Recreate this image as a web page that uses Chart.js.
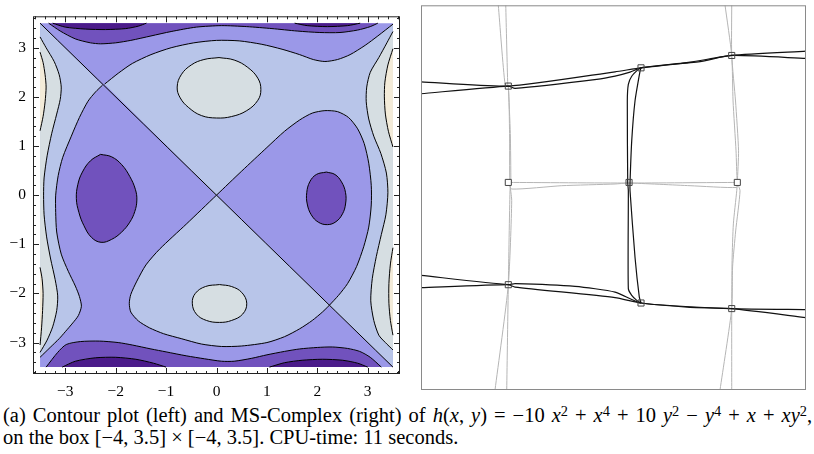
<!DOCTYPE html>
<html>
<head>
<meta charset="utf-8">
<script src="https://cdn.jsdelivr.net/npm/chart.js@4.4.0/dist/chart.umd.min.js"></script>
<style>
  body { margin: 0; background: #fff; width: 814px; height: 454px; position: relative; overflow: hidden; }
  #leftBox { position: absolute; left: 0; top: 0; width: 410px; height: 400px; }
  #rightBox { position: absolute; left: 410px; top: 0; width: 404px; height: 400px; }
  #caption { position: absolute; left: 3px; top: 404px; font-family: 'Liberation Serif', serif; font-size: 20.5px;
             line-height: 22px; color: #000; }
  #caption .l1 { width: 809px; text-align: justify; text-align-last: justify; }
  #caption sup { font-size: 0.7em; line-height: 0; vertical-align: 0.45em; }
</style>
</head>
<body>
<div id="leftBox"><canvas id="contour"></canvas></div>
<div id="rightBox"><canvas id="complex"></canvas></div>
<div id="caption">
  <div class="l1">(a) Contour plot (left) and MS-Complex (right) of <i>h</i>(<i>x</i>, <i>y</i>) = −10 <i>x</i><sup>2</sup> + <i>x</i><sup>4</sup> + 10 <i>y</i><sup>2</sup> − <i>y</i><sup>4</sup> + <i>x</i> + <i>xy</i><sup>2</sup>,</div>
  <div class="l2">on the box [−4, 3.5] × [−4, 3.5]. CPU-time: 11 seconds.</div>
</div>

<script>
// ---- contour plot (left), contours, [x, y] ----
const axisTicks = [-3, -2, -1, 0, 1, 2, 3];
const domainBox = [[-3.5, -3.5], [3.5, -3.5], [3.5, 3.5], [-3.5, 3.5]];

// level 0
const diagonal = [[-3.5, 3.5], [3.5, -3.5]];
const c0Left = [[-2.26, 2.24], [-2.4, 2.1], [-2.55, 1.91], [-2.72, 1.58], [-2.88, 1.2], [-3.05, 0.77], [-3.14, 0.4],
  [-3.19, 0], [-3.19, -0.35], [-3.17, -0.75], [-3.08, -1.2], [-2.94, -1.55], [-2.8, -1.85], [-2.72, -2.06],
  [-2.68, -2.26], [-2.74, -2.45], [-2.85, -2.6], [-3.0, -2.78], [-3.12, -2.92], [-3.3, -3.1], [-3.5, -3.3]];
const c0Top = [[-2.22, 2.26], [-1.95, 2.48], [-1.67, 2.68], [-1.3, 2.86], [-0.9, 3.0], [-0.45, 3.1], [0, 3.15],
  [0.45, 3.14], [0.9, 3.07], [1.3, 2.97], [1.65, 2.86], [1.92, 2.76], [2.15, 2.72], [2.4, 2.76], [2.65, 2.86],
  [2.95, 3.05], [3.2, 3.24], [3.5, 3.48]];
const c0Right = [[0, 0], [0.5, 0.49], [1.0, 0.97], [1.35, 1.3], [1.65, 1.53], [1.9, 1.67], [2.15, 1.72], [2.4, 1.7],
  [2.62, 1.58], [2.8, 1.35], [2.93, 1.05], [3.02, 0.65], [3.07, 0.2], [3.07, -0.2], [3.02, -0.65], [2.92, -1.05],
  [2.78, -1.45], [2.6, -1.8], [2.42, -2.04], [2.24, -2.24]];
const c0Bottom = [[0, 0], [-0.6, -0.59], [-1.13, -1.1], [-1.4, -1.42], [-1.58, -1.75], [-1.7, -2.02], [-1.73, -2.2],
  [-1.7, -2.38], [-1.55, -2.56], [-1.33, -2.7], [-1.05, -2.82], [-0.7, -2.92], [-0.3, -3.03], [0.1, -3.08],
  [0.5, -3.07], [1.0, -3.0], [1.35, -2.88], [1.65, -2.72], [1.9, -2.55], [2.1, -2.38], [2.24, -2.24]];

// level -20
const eyeLeft = [[-2.3, 0.83], [-2.08, 0.78], [-1.88, 0.62], [-1.72, 0.38], [-1.61, 0.12], [-1.58, -0.1],
  [-1.62, -0.33], [-1.72, -0.55], [-1.88, -0.75], [-2.08, -0.9], [-2.29, -0.96], [-2.48, -0.86], [-2.63, -0.62],
  [-2.73, -0.35], [-2.78, -0.07], [-2.75, 0.22], [-2.66, 0.47], [-2.5, 0.7], [-2.3, 0.83]];
const eyeRight = [[2.18, 0.47], [2.35, 0.42], [2.48, 0.27], [2.56, 0.05], [2.56, -0.18], [2.5, -0.38], [2.37, -0.54],
  [2.2, -0.6], [2.02, -0.55], [1.88, -0.4], [1.8, -0.18], [1.79, 0.05], [1.85, 0.27], [1.98, 0.42], [2.18, 0.47]];
const c20Top = [[-3.33, 3.5], [-3.1, 3.34], [-2.8, 3.18], [-2.5, 3.1], [-2.3, 3.08], [-2.0, 3.1], [-1.7, 3.15],
  [-1.3, 3.24], [-0.9, 3.33], [-0.4, 3.42], [0.1, 3.45], [0.6, 3.43], [1.1, 3.39], [1.6, 3.34], [2.05, 3.31],
  [2.45, 3.31], [2.8, 3.36], [3.05, 3.43], [3.2, 3.5]];
const c20Bottom = [[-3.38, -3.5], [-3.15, -3.2], [-2.98, -3.04], [-2.7, -2.98], [-2.32, -2.97], [-1.95, -3.0],
  [-1.67, -3.05], [-1.3, -3.13], [-1.0, -3.19], [-0.6, -3.27], [-0.24, -3.33], [0.1, -3.38], [0.35, -3.38],
  [0.7, -3.32], [1.0, -3.25], [1.35, -3.18], [1.65, -3.13], [2.0, -3.1], [2.3, -3.09], [2.6, -3.12], [2.84, -3.18],
  [3.05, -3.3], [3.27, -3.5]];

// level -40
const c40TopL = [[-3.25, 3.5], [-3.0, 3.42], [-2.6, 3.38], [-2.2, 3.37], [-1.8, 3.39], [-1.55, 3.44], [-1.39, 3.5]];
const c40TopR = [[1.55, 3.5], [1.8, 3.45], [2.2, 3.43], [2.6, 3.45], [2.85, 3.5]];
const c40BotL = [[-3.06, -3.5], [-2.8, -3.38], [-2.4, -3.31], [-2.0, -3.3], [-1.6, -3.34], [-1.25, -3.42], [-1.0, -3.5]];
const c40BotR = [[1.05, -3.5], [1.35, -3.41], [1.7, -3.36], [2.1, -3.34], [2.5, -3.36], [2.8, -3.42], [3.0, -3.5]];

// level 20
const c20Left = [[-3.5, 3.22], [-3.38, 3.0], [-3.22, 2.72], [-3.12, 2.45], [-3.08, 2.2], [-3.1, 1.95], [-3.17, 1.65],
  [-3.27, 1.25], [-3.36, 0.8], [-3.42, 0.35], [-3.43, 0], [-3.42, -0.4], [-3.37, -0.85], [-3.29, -1.3],
  [-3.2, -1.72], [-3.15, -2.05], [-3.17, -2.35], [-3.25, -2.68], [-3.36, -2.95], [-3.5, -3.2]];
const c20Right = [[3.5, 3.33], [3.38, 3.1], [3.22, 2.8], [3.05, 2.5], [2.98, 2.2], [2.97, 1.9], [3.02, 1.55],
  [3.12, 1.2], [3.26, 0.85], [3.37, 0.45], [3.4, 0.05], [3.36, -0.4], [3.27, -0.8], [3.17, -1.25], [3.09, -1.7],
  [3.06, -2.15], [3.12, -2.55], [3.22, -2.85], [3.35, -3.0], [3.5, -3.15]];
const blobTop = [[0.05, 2.8], [0.35, 2.75], [0.62, 2.6], [0.82, 2.38], [0.88, 2.15], [0.82, 1.93], [0.6, 1.72],
  [0.3, 1.6], [0.0, 1.57], [-0.3, 1.62], [-0.55, 1.78], [-0.72, 1.98], [-0.78, 2.2], [-0.7, 2.45], [-0.5, 2.65],
  [-0.25, 2.76], [0.05, 2.8]];
const blobBottom = [[0.06, -1.82], [0.3, -1.86], [0.5, -1.98], [0.6, -2.2], [0.52, -2.42], [0.3, -2.55],
  [0.06, -2.59], [-0.2, -2.55], [-0.4, -2.42], [-0.48, -2.2], [-0.42, -2.0], [-0.22, -1.86], [0.06, -1.82]];

// level 40
const c40LeftU = [[-3.5, 2.91], [-3.44, 2.7], [-3.4, 2.45], [-3.38, 2.2], [-3.4, 1.9], [-3.44, 1.6], [-3.5, 1.31]];
const c40LeftD = [[-3.5, -1.47], [-3.46, -1.7], [-3.44, -2.0], [-3.45, -2.35], [-3.47, -2.7], [-3.5, -3.05]];
const c40RightU = [[3.5, 2.98], [3.4, 2.65], [3.34, 2.3], [3.33, 2.0], [3.35, 1.65], [3.41, 1.3], [3.5, 0.98]];
const c40RightD = [[3.5, -1.07], [3.45, -1.4], [3.42, -1.8], [3.42, -2.2], [3.45, -2.55], [3.5, -2.85]];

// ---- MS complex (right), box [-4, 3.5] x [-4, 3.5] ----
const msPoints = [[-2.299, 1.925], [0.286, 2.281], [2.053, 2.522], [-2.299, 0.047], [0.053, 0.047], [2.162, 0.047],
  [-2.299, -1.947], [0.286, -2.304], [2.053, -2.413]];
const msKinds = ['saddle', 'max', 'saddle', 'min', 'saddle', 'min', 'saddle', 'max', 'saddle'];

const blackArcs = [
  [[-4, 2.009], [-2.299, 1.925], [-0.22, 2.203], [0.286, 2.281], [1.241, 2.392], [2.053, 2.522], [3.5, 2.605]],
  [[-4, 1.776], [-2.299, 1.925], [-2.168, 1.881], [-0.577, 2.056], [-0.22, 2.12], [0.072, 2.197], [0.286, 2.281],
    [1.436, 2.401], [2.053, 2.522], [3.5, 2.464]],
  [[-4, -1.766], [-2.299, -1.947], [-2.168, -1.927], [-0.999, -1.98], [-0.22, -2.091], [0.286, -2.304],
    [2.053, -2.413], [3.5, -2.432]],
  [[-4, -2.005], [-2.299, -1.947], [-2.168, -1.993], [-0.22, -2.199], [0.286, -2.304], [1.241, -2.388],
    [2.053, -2.413], [3.5, -2.588]],
  [[0.286, 2.281], [0.234, 2.25], [0.105, 2.117], [0.039, 1.958], [0.019, 1.634], [0.027, 0.047], [0.039, -0.115],
    [0.039, -2.024], [0.105, -2.155], [0.203, -2.252], [0.286, -2.304]],
  [[0.286, 2.281], [0.267, 2.217], [0.169, 1.634], [0.105, 0.857], [0.072, 0.047], [0.072, -0.115], [0.169, -1.411],
    [0.253, -2.188], [0.286, -2.304]]
];
const grayArcs = [
  [[-2.494, 3.5], [-2.363, 1.958], [-2.299, 1.925], [-2.275, 1.0], [-2.27, 0.047], [-2.233, -0.309],
    [-2.299, -1.947], [-2.558, -4]],
  [[-2.349, 3.5], [-2.31, 1.95], [-2.299, 1.925], [-2.26, 1.0], [-2.25, 0.047], [-2.266, -0.115],
    [-2.299, -1.947], [-2.33, -4]],
  [[1.923, 3.5], [2.053, 2.522], [2.079, 1.634], [2.137, 0.663], [2.162, 0.047], [2.215, -0.115], [2.13, -0.9],
    [2.07, -1.6], [2.053, -2.413], [1.825, -4]],
  [[2.053, 3.5], [2.053, 2.522], [2.127, 1.634], [2.186, 0.663], [2.162, 0.047], [2.151, -0.115], [2.085, -0.762],
    [2.06, -1.475], [2.053, -2.413], [2.053, -4]],
  [[-2.299, 0.047], [0.039, 0.035], [2.162, 0.047]],
  [[-2.299, 0.047], [-2.233, -0.082], [-1.259, -0.017], [-0.22, 0.016], [0.039, 0.035], [1.241, -0.017],
    [2.151, -0.051], [2.162, 0.047]]
];

// ---- colours ----
const colDarkest = '#4b1b8a';
const colDark = '#7152bd';
const colMedium = '#9b98e8';
const colLav = '#b8c5e9';
const colGray = '#d6dee2';
const colCream = '#f3ebd8';

function pts(arr) {
  return arr.map(p => ({ x: p[0], y: p[1] }));
}
function ring(...parts) {
  const all = parts.flat();
  return all.concat([all[0]]);
}
function fillSet(points, color, tension) {
  return { data: pts(points), showLine: true, fill: 'shape', backgroundColor: color,
           borderColor: 'rgba(0,0,0,0)', borderWidth: 0, pointRadius: 0, tension: tension || 0 };
}
function lineSet(points, color, width, tension) {
  return { data: pts(points), showLine: true, fill: false, borderColor: color,
           borderWidth: width, pointRadius: 0, tension: tension || 0 };
}
function fmt(v) {
  return v < 0 ? '\u2212' + Math.abs(v) : String(v);
}

// painter's order: first entry is painted first
const contourSets = [
  fillSet(ring(domainBox), colMedium),
  fillSet(ring([[-3.5, 3.5]], c0Left), colLav),
  fillSet(ring([[0, 0]], c0Top, [[3.5, -3.5]], [...c0Right].reverse()), colLav),
  fillSet(ring(c0Bottom), colLav),
  fillSet(eyeLeft, colDark, 0.4),
  fillSet(eyeRight, colDark, 0.4),
  fillSet(ring(c20Top), colDark),
  fillSet(ring(c20Bottom), colDark),
  fillSet(ring(c40TopL), colDarkest),
  fillSet(ring(c40TopR), colDarkest),
  fillSet(ring(c40BotL), colDarkest),
  fillSet(ring(c40BotR), colDarkest),
  fillSet(ring(c20Left), colGray),
  fillSet(ring(c20Right), colGray),
  fillSet(blobTop, colGray, 0.4),
  fillSet(blobBottom, colGray, 0.4),
  fillSet(ring(c40LeftU), colCream),
  fillSet(ring(c40LeftD), colCream),
  fillSet(ring(c40RightU), colCream),
  fillSet(ring(c40RightD), colCream)
];
[diagonal, c0Left, c0Top, c0Right, c0Bottom, c20Top, c20Bottom, c40TopL, c40TopR, c40BotL, c40BotR,
 c20Left, c20Right, c40LeftU, c40LeftD, c40RightU, c40RightD].forEach(c => {
  contourSets.push(lineSet(c, '#000', 1, 0.25));
});
[eyeLeft, eyeRight, blobTop, blobBottom].forEach(c => {
  contourSets.push(lineSet(c, '#000', 1, 0.4));
});
contourSets.forEach((d, i) => { d.order = contourSets.length - i; });

// frame with inward ticks, Mathematica style
const frameTicks = {
  id: 'frameTicks',
  afterDraw(chart) {
    const { ctx, chartArea: a, scales } = chart;
    ctx.save();
    ctx.strokeStyle = '#222';
    ctx.lineWidth = 1;
    ctx.strokeRect(a.left + 0.5, a.top + 0.5, a.width - 1, a.height - 1);
    ctx.beginPath();
    for (let k = -18; k <= 18; k++) {
      const v = k / 5;
      const len = k % 5 === 0 ? 6 : 3;
      const px = Math.round(scales.x.getPixelForValue(v)) + 0.5;
      const py = Math.round(scales.y.getPixelForValue(v)) + 0.5;
      ctx.moveTo(px, a.bottom); ctx.lineTo(px, a.bottom - len);
      ctx.moveTo(px, a.top); ctx.lineTo(px, a.top + len);
      ctx.moveTo(a.left, py); ctx.lineTo(a.left + len, py);
      ctx.moveTo(a.right, py); ctx.lineTo(a.right - len, py);
    }
    ctx.stroke();
    ctx.restore();
  }
};

const tickFont = { family: "'Liberation Serif', serif", size: 15.5 };

new Chart(document.getElementById('contour'), {
  type: 'scatter',
  data: { datasets: contourSets },
  options: {
    responsive: true,
    maintainAspectRatio: false,
    animation: false,
    events: [],
    layout: { padding: { top: 6, right: 10, left: 0, bottom: 0 } },
    plugins: { legend: { display: false }, tooltip: { enabled: false } },
    scales: {
      x: {
        type: 'linear', min: -3.64, max: 3.64,
        afterBuildTicks: s => { s.ticks = axisTicks.map(v => ({ value: v })); },
        afterFit: s => { s.height = 26; },
        grid: { display: false, drawTicks: false },
        border: { display: false },
        ticks: { padding: 9, color: '#000', font: tickFont, callback: v => fmt(v), maxRotation: 0, autoSkip: false }
      },
      y: {
        type: 'linear', min: -3.64, max: 3.64,
        afterBuildTicks: s => { s.ticks = axisTicks.map(v => ({ value: v })); },
        afterFit: s => { s.width = 33; },
        grid: { display: false, drawTicks: false },
        border: { display: false },
        ticks: { padding: 7, color: '#000', font: tickFont, callback: v => fmt(v), autoSkip: false }
      }
    }
  },
  plugins: [frameTicks]
});

// ---- MS complex chart ----
const complexSets = [];
grayArcs.forEach(a => complexSets.push(lineSet(a, '#b5b5b5', 1, 0.2)));
blackArcs.forEach(a => complexSets.push(lineSet(a, '#111', 1.2, 0.2)));
complexSets.push({
  data: pts(msPoints), showLine: false, pointStyle: 'rect', pointRadius: 4.3, pointBorderWidth: 1,
  pointBorderColor: '#444',
  pointBackgroundColor: msKinds.map(k => k === 'min' ? '#fff' : 'rgba(255,255,255,0)')
});
complexSets.forEach((d, i) => { d.order = complexSets.length - i; });

const boxFrame = {
  id: 'boxFrame',
  afterDraw(chart) {
    const { ctx, chartArea: a } = chart;
    ctx.save();
    ctx.strokeStyle = '#8a8a8a';
    ctx.lineWidth = 1;
    ctx.strokeRect(a.left + 0.5, a.top + 0.5, a.width - 1, a.height - 1);
    ctx.restore();
  }
};

new Chart(document.getElementById('complex'), {
  type: 'scatter',
  data: { datasets: complexSets },
  options: {
    responsive: true,
    maintainAspectRatio: false,
    animation: false,
    events: [],
    layout: { padding: { top: 4, right: 8, left: 11, bottom: 10 } },
    plugins: { legend: { display: false }, tooltip: { enabled: false } },
    scales: {
      x: { type: 'linear', min: -4, max: 3.5, display: false },
      y: { type: 'linear', min: -4, max: 3.5, display: false }
    }
  },
  plugins: [boxFrame]
});
</script>
</body>
</html>
